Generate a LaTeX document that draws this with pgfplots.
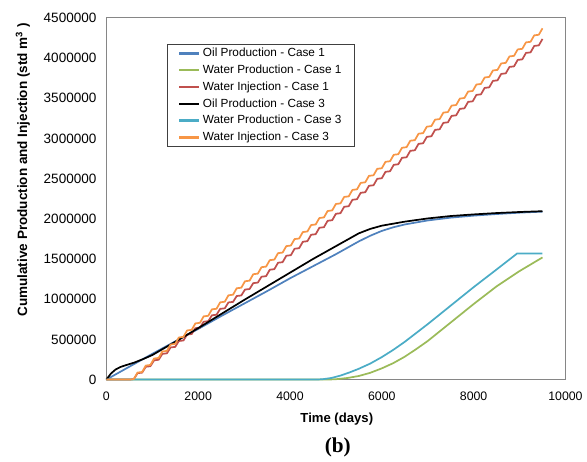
\documentclass[border=0pt]{standalone}
\usepackage{fontspec}
\setmainfont{Liberation Sans}
\newfontfamily\serifb{Liberation Serif}
\usepackage{pgfplots}
\pgfplotsset{compat=1.18}
\definecolor{c1}{RGB}{79,129,189}
\definecolor{c2}{RGB}{155,187,89}
\definecolor{c3}{RGB}{192,80,77}
\definecolor{c5}{RGB}{75,172,198}
\definecolor{c6}{RGB}{247,150,70}
\definecolor{frame}{RGB}{134,134,134}
\begin{document}
\begin{tikzpicture}
\begin{axis}[
 scale only axis, width=346.5pt, height=273pt,
 xmin=0,xmax=10000,ymin=0,ymax=4500000,
 xtick={0,2000,4000,6000,8000,10000},
 ytick={0,500000,1000000,1500000,2000000,2500000,3000000,3500000,4000000,4500000},
 scaled ticks=false,
 /pgf/number format/assume math mode=true,
 xticklabel style={/pgf/number format/fixed,/pgf/number format/1000 sep={},yshift=-5.5pt,font=\fontsize{9.3}{11}\selectfont},
 yticklabel style={/pgf/number format/fixed,/pgf/number format/1000 sep={},xshift=-4pt,font=\fontsize{10.2}{12}\selectfont},
 major tick length=0pt,
 axis line style={draw=frame, line width=0.8pt},
 clip=false,
 xlabel={Time (days)},
 ylabel={Cumulative Production and Injection (std m\textsuperscript{3} )},
 every axis x label/.style={at={(axis description cs:0.502,-0.108)},anchor=center,font=\bfseries\fontsize{9.9}{11}\selectfont},
 every axis y label/.style={at={(axis description cs:-0.1818,0.58)},rotate=90,anchor=center,font=\bfseries\fontsize{10.2}{11}\selectfont},
 legend style={at={(axis description cs:0.132,0.9286)},anchor=north west, draw=black!75, line width=0.6pt, font=\fontsize{8.9}{10}\selectfont, row sep=0.75pt, cells={anchor=west}, inner xsep=8pt, inner ysep=1pt},
 legend image code/.code={\draw[#1,line width=1.9pt] (0pt,0pt) -- (15pt,0pt);},
 every axis plot/.append style={line width=1.3pt, line join=round},
]
\addplot[c1] coordinates {(0,0) (500,160000) (1000,320000) (1500,475000) (2000,630000) (2500,790000) (3000,945000) (3500,1100000) (4000,1260000) (4500,1410000) (5000,1560000) (5500,1720000) (5750,1790000) (6000,1850000) (6250,1895000) (6500,1930000) (7000,1980000) (7500,2015000) (8000,2040000) (8500,2060000) (9000,2077000) (9500,2090000)};
\addlegendentry{Oil Production - Case 1}
\addplot[c2] coordinates {(0,0) (4800,0) (5000,5000) (5250,20000) (5500,45000) (5750,85000) (6000,140000) (6250,205000) (6500,285000) (6750,380000) (7000,480000) (7500,710000) (8000,940000) (8500,1160000) (9000,1350000) (9500,1520000)};
\addlegendentry{Water Production - Case 1}
\addplot[c3] coordinates {(0,0) (500,0) (600,7000) (680,80000) (780,87000) (860,160000) (960,167000) (1040,240000) (1140,247000) (1220,320000) (1320,327000) (1400,400000) (1500,407000) (1580,480000) (1680,487000) (1760,560000) (1860,567000) (1940,640000) (2040,647000) (2120,720000) (2220,727000) (2300,800000) (2400,807000) (2480,880000) (2580,887000) (2660,960000) (2760,967000) (2840,1040000) (2940,1047000) (3020,1120000) (3120,1127000) (3200,1200000) (3300,1207000) (3380,1280000) (3480,1287000) (3560,1367000) (3660,1374000) (3740,1454000) (3840,1461000) (3920,1541000) (4020,1548000) (4100,1628000) (4200,1635000) (4280,1715000) (4380,1722000) (4460,1802000) (4560,1809000) (4640,1889000) (4740,1896000) (4820,1976000) (4920,1983000) (5000,2063000) (5100,2070000) (5180,2150000) (5280,2157000) (5360,2237000) (5460,2244000) (5540,2324000) (5640,2331000) (5720,2411000) (5820,2418000) (5900,2498000) (6000,2505000) (6080,2585000) (6180,2592000) (6260,2672000) (6360,2679000) (6440,2759000) (6540,2766000) (6620,2846000) (6720,2853000) (6800,2933000) (6900,2940000) (6980,3020000) (7080,3027000) (7160,3107000) (7260,3114000) (7340,3194000) (7440,3201000) (7520,3281000) (7620,3288000) (7700,3368000) (7800,3375000) (7880,3455000) (7980,3462000) (8060,3542000) (8160,3549000) (8240,3629000) (8340,3636000) (8420,3716000) (8520,3723000) (8600,3803000) (8700,3810000) (8780,3890000) (8880,3897000) (8960,3977000) (9060,3984000) (9140,4064000) (9240,4071000) (9320,4151000) (9420,4158000) (9500,4238000)};
\addlegendentry{Water Injection - Case 1}
\addplot[black] coordinates {(0,0) (100,75000) (200,125000) (300,155000) (400,175000) (600,210000) (800,255000) (1000,305000) (1500,470000) (2000,640000) (2500,815000) (3000,990000) (3500,1160000) (4000,1330000) (4500,1500000) (5000,1660000) (5250,1740000) (5500,1820000) (5750,1875000) (6000,1915000) (6500,1965000) (7000,2005000) (7500,2035000) (8000,2055000) (8500,2072000) (9000,2085000) (9500,2095000)};
\addlegendentry{Oil Production - Case 3}
\addplot[c5] coordinates {(0,0) (4500,0) (4700,4000) (4900,20000) (5100,50000) (5300,90000) (5500,135000) (5750,200000) (6000,280000) (6250,370000) (6500,470000) (6750,580000) (7000,690000) (7500,920000) (8000,1150000) (8500,1370000) (8950,1570000) (9500,1570000)};
\addlegendentry{Water Production - Case 3}
\addplot[c6] coordinates {(0,0) (500,0) (600,7400) (680,87400) (780,94800) (860,174800) (960,182200) (1040,262200) (1140,269600) (1220,349600) (1320,357000) (1400,437000) (1500,444400) (1580,524400) (1680,531800) (1760,611800) (1860,619200) (1940,699200) (2040,706600) (2120,786600) (2220,794000) (2300,874000) (2400,881400) (2480,961400) (2580,968800) (2660,1048800) (2760,1056200) (2840,1136200) (2940,1143600) (3020,1223600) (3120,1231000) (3200,1311000) (3300,1318400) (3380,1398400) (3480,1405800) (3560,1485800) (3660,1493200) (3740,1573200) (3840,1580600) (3920,1660600) (4020,1668000) (4100,1748000) (4200,1755400) (4280,1835400) (4380,1842800) (4460,1922800) (4560,1930200) (4640,2010200) (4740,2017600) (4820,2097600) (4920,2105000) (5000,2185000) (5100,2192400) (5180,2272400) (5280,2279800) (5360,2359800) (5460,2367200) (5540,2447200) (5640,2454600) (5720,2534600) (5820,2542000) (5900,2622000) (6000,2629400) (6080,2709400) (6180,2716800) (6260,2796800) (6360,2804200) (6440,2884200) (6540,2891600) (6620,2971600) (6720,2979000) (6800,3059000) (6900,3066400) (6980,3146400) (7080,3153800) (7160,3233800) (7260,3241200) (7340,3321200) (7440,3328600) (7520,3408600) (7620,3416000) (7700,3496000) (7800,3503400) (7880,3583400) (7980,3590800) (8060,3670800) (8160,3678200) (8240,3758200) (8340,3765600) (8420,3845600) (8520,3853000) (8600,3933000) (8700,3940400) (8780,4020400) (8880,4027800) (8960,4107800) (9060,4115200) (9140,4195200) (9240,4202600) (9320,4282600) (9420,4290000) (9500,4370000)};
\addlegendentry{Water Injection - Case 3}
\node[font=\serifb\bfseries\fontsize{16}{18}\selectfont] at (axis description cs:0.504,-0.187) {(b)};
\path (axis description cs:-0.2316,-0.2170) rectangle (axis description cs:1.03896,1.04945);
\end{axis}
\end{tikzpicture}
\end{document}
